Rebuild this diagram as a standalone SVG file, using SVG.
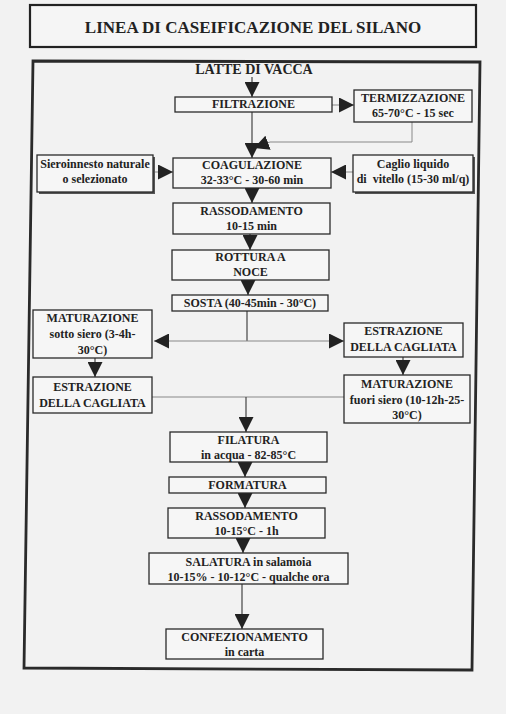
<svg xmlns="http://www.w3.org/2000/svg" width="506" height="714" viewBox="0 0 506 714">
<defs>
<marker id="ah" markerUnits="userSpaceOnUse" markerWidth="15" markerHeight="15" refX="15" refY="7.5" orient="auto" viewBox="0 0 15 15">
<path d="M0,0 L15,7.5 L0,15 z" fill="#222"/>
</marker>
</defs>
<style>
.bx{fill:#f6f6f6;stroke:#2a2a2a;stroke-width:1.3}
.sh{fill:#555}
.t{font-family:"Liberation Serif","Times New Roman",serif;font-weight:bold;font-size:12px;fill:#222;text-anchor:middle}
.ln{fill:none;stroke:#444;stroke-width:1.2}
.lt{fill:none;stroke:#888;stroke-width:1}
</style>
<rect x="0" y="0" width="506" height="714" fill="#f2f2f2"/>
<g id="title">
<rect x="30" y="5" width="446" height="42" fill="#f5f5f5" stroke="#222" stroke-width="2.2"/>
<text class="t" x="253" y="33" style="font-size:17px">LINEA DI CASEIFICAZIONE DEL SILANO</text>
</g>
<g id="frame">
<polygon points="33,61 480,62 472,670 24,668" fill="none" stroke="#2a2a2a" stroke-width="2.8"/>
</g>
<g id="connectors">
<line class="ln" x1="252" y1="77" x2="252" y2="97" marker-end="url(#ah)"/>
<line class="lt" x1="332" y1="105" x2="354" y2="105" marker-end="url(#ah)"/>
<polyline class="lt" points="412,122 412,142 270,142 254,148" marker-end="url(#ah)"/>
<line class="ln" x1="252" y1="112" x2="252" y2="158" marker-end="url(#ah)"/>
<line class="lt" x1="153" y1="172" x2="173" y2="172" marker-end="url(#ah)"/>
<line class="lt" x1="353" y1="172" x2="331" y2="172" marker-end="url(#ah)"/>
<line class="ln" x1="252" y1="188" x2="252" y2="203" marker-end="url(#ah)"/>
<line class="ln" x1="250" y1="234" x2="250" y2="250" marker-end="url(#ah)"/>
<line class="ln" x1="248" y1="280" x2="248" y2="295" marker-end="url(#ah)"/>
<line class="ln" x1="247" y1="311" x2="247" y2="341"/>
<line class="lt" x1="247" y1="341" x2="154" y2="341" marker-end="url(#ah)"/>
<line class="lt" x1="247" y1="341" x2="344" y2="341" marker-end="url(#ah)"/>
<line class="ln" x1="95" y1="358" x2="95" y2="377" marker-end="url(#ah)"/>
<line class="ln" x1="403" y1="357" x2="403" y2="375" marker-end="url(#ah)"/>
<line class="lt" x1="152" y1="397" x2="344" y2="397"/>
<line class="ln" x1="246" y1="397" x2="246" y2="432" marker-end="url(#ah)"/>
<line class="ln" x1="245" y1="462" x2="245" y2="477" marker-end="url(#ah)"/>
<line class="ln" x1="245" y1="493" x2="245" y2="508" marker-end="url(#ah)"/>
<line class="ln" x1="243" y1="538" x2="243" y2="553" marker-end="url(#ah)"/>
<line class="ln" x1="242" y1="584" x2="242" y2="629" marker-end="url(#ah)"/>
</g>
<g id="latte">
<text class="t" x="254" y="74" style="font-size:14px">LATTE DI VACCA</text>
</g>
<g id="filtrazione">
<rect class="bx" x="175" y="97" width="157" height="15"/>
<text class="t" x="253.5" y="108">FILTRAZIONE</text>
</g>
<g id="termizzazione">
<rect class="bx" x="354" y="90" width="118" height="32"/>
<text class="t" x="413" y="102">TERMIZZAZIONE</text>
<text class="t" x="413" y="117">65-70°C - 15 sec</text>
</g>
<g id="sieroinnesto">
<rect class="sh" x="39" y="157" width="116" height="37"/>
<rect class="bx" x="37" y="155" width="116" height="37"/>
<text class="t" x="95" y="168">Sieroinnesto naturale</text>
<text class="t" x="95" y="183">o selezionato</text>
</g>
<g id="coagulazione">
<rect class="bx" x="173" y="158" width="158" height="30"/>
<text class="t" x="252" y="169">COAGULAZIONE</text>
<text class="t" x="252" y="184">32-33°C - 30-60 min</text>
</g>
<g id="caglio">
<rect class="sh" x="355" y="157" width="120" height="37"/>
<rect class="bx" x="353" y="155" width="120" height="37"/>
<text class="t" x="413" y="168">Caglio liquido</text>
<text class="t" x="413" y="183">di&#160; vitello (15-30 ml/q)</text>
</g>
<g id="rassodamento1">
<rect class="bx" x="173" y="203" width="157" height="31"/>
<text class="t" x="251.5" y="215">RASSODAMENTO</text>
<text class="t" x="251.5" y="230">10-15 min</text>
</g>
<g id="rottura">
<rect class="bx" x="172" y="250" width="157" height="30"/>
<text class="t" x="250.5" y="261">ROTTURA A</text>
<text class="t" x="250.5" y="276">NOCE</text>
</g>
<g id="sosta">
<rect class="bx" x="172" y="295" width="156" height="16"/>
<text class="t" x="250" y="307">SOSTA (40-45min - 30°C)</text>
</g>
<g id="maturazione-sotto">
<rect class="bx" x="33" y="310" width="119" height="48"/>
<text class="t" x="92.5" y="322">MATURAZIONE</text>
<text class="t" x="92.5" y="338">sotto siero (3-4h-</text>
<text class="t" x="92.5" y="354">30°C)</text>
</g>
<g id="estrazione-dx">
<rect class="bx" x="344" y="323" width="119" height="34"/>
<text class="t" x="403.5" y="335">ESTRAZIONE</text>
<text class="t" x="403.5" y="351">DELLA CAGLIATA</text>
</g>
<g id="estrazione-sx">
<rect class="bx" x="33" y="377" width="119" height="36"/>
<text class="t" x="92.5" y="391">ESTRAZIONE</text>
<text class="t" x="92.5" y="407">DELLA CAGLIATA</text>
</g>
<g id="maturazione-fuori">
<rect class="bx" x="344" y="375" width="126" height="48"/>
<text class="t" x="407" y="388">MATURAZIONE</text>
<text class="t" x="407" y="404">fuori siero (10-12h-25-</text>
<text class="t" x="407" y="419">30°C)</text>
</g>
<g id="filatura">
<rect class="bx" x="170" y="432" width="157" height="30"/>
<text class="t" x="248.5" y="444">FILATURA</text>
<text class="t" x="248.5" y="459">in acqua - 82-85°C</text>
</g>
<g id="formatura">
<rect class="bx" x="169" y="477" width="157" height="16"/>
<text class="t" x="247.5" y="489">FORMATURA</text>
</g>
<g id="rassodamento2">
<rect class="bx" x="168" y="508" width="157" height="30"/>
<text class="t" x="246.5" y="520">RASSODAMENTO</text>
<text class="t" x="246.5" y="535">10-15°C - 1h</text>
</g>
<g id="salatura">
<rect class="bx" x="149" y="553" width="199" height="31"/>
<text class="t" x="248.5" y="566">SALATURA in salamoia</text>
<text class="t" x="248.5" y="581">10-15% - 10-12°C - qualche ora</text>
</g>
<g id="confezionamento">
<rect class="bx" x="166" y="629" width="157" height="30"/>
<text class="t" x="244.5" y="641">CONFEZIONAMENTO</text>
<text class="t" x="244.5" y="656">in carta</text>
</g>
</svg>
